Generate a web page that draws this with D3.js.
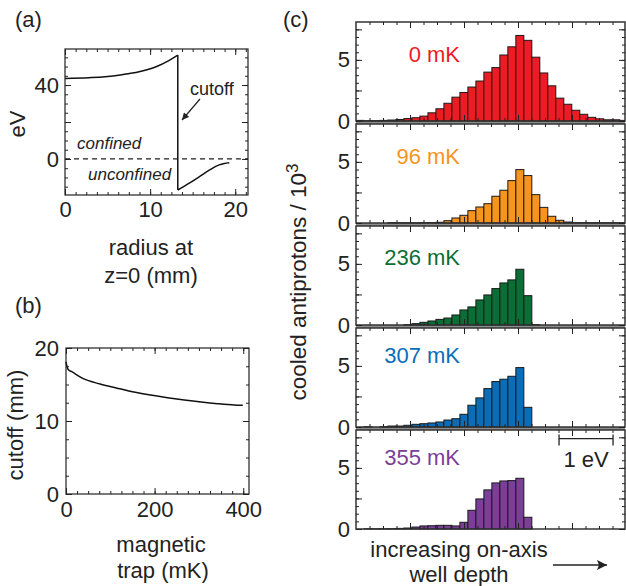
<!DOCTYPE html>
<html lang="en">
<head>
<meta charset="UTF-8">
<title>Antiproton cooling vs magnetic trap depth</title>
<style>
body { margin: 0; background: #fff; }
svg { display: block; font-family: "Liberation Sans", Arial, Helvetica, sans-serif; }
.frame { fill: none; stroke: #222; stroke-width: 1.2px; }
.hframe { fill: none; stroke: #333; stroke-width: 1.5px; }
.tick line { stroke: #222; stroke-width: 1px; }
.bar { stroke: #1a1a1a; stroke-width: 1px; }
</style>
</head>
<body>
<svg width="626" height="586"></svg>
<script src="https://d3js.org/d3.v7.min.js"></script>
<script>
// (a) on-axis potential vs radius at z=0
const potInside  = [[0,43.6],[2.8,44],[4.7,44.5],[6.7,45.6],[8.7,47.2],[10.7,49.9],[12.2,53.2],[13.25,56.2]];
const potOutside = [[13.25,-16.8],[14.6,-13.1],[15.8,-9.5],[17.0,-5.9],[18.1,-3.2],[18.7,-2.4],[19.3,-2.0]];

// (b) cutoff radius vs magnetic trap depth
const trapDepth    = [0, 3, 6, 13, 39, 77, 115, 153, 191, 229, 267, 305, 342, 380, 399];
const cutoffRadius = [18.1, 17.3, 17.0, 16.75, 15.8, 15.07, 14.5, 13.97, 13.56, 13.2, 12.88, 12.6, 12.37, 12.19, 12.15];

// (c) cooled antiprotons / 10^3 per bin of well depth
const binWidth = 0.148; // eV
const trapLabels = ["0 mK", "96 mK", "236 mK", "307 mK", "355 mK"];
const trapColors = ["#ed1c24", "#f7941d", "#0b6e35", "#0b6db7", "#7b3f98"];
const counts0   = [0.05,0.02,0.03,0.05,0.08,0.12,0.2,0.27,0.4,0.67,1.0,1.45,1.95,2.33,2.78,3.27,4.0,4.37,5.4,6.07,7.0,6.6,5.22,3.93,2.88,1.87,1.37,0.88,0.55,0.3,0.18,0.1,0.1,0.05];
const counts96  = [0,0,0,0,0.03,0.02,0.02,0.02,0.03,0.03,0.06,0.19,0.41,0.63,1.01,1.31,1.58,2.19,2.68,3.47,4.37,3.88,2.32,1.28,0.55,0.22,0.08,0.03,0.03,0.02,0.02,0.02,0.02,0.02];
const counts236 = [0,0,0,0,0,0,0.03,0.11,0.22,0.33,0.46,0.57,0.82,1.23,1.48,2.05,2.46,2.98,3.44,3.69,4.56,2.40,0.03,0,0,0,0,0,0,0,0,0,0,0];
const counts307 = [0,0.02,0,0.03,0.08,0.08,0.14,0.22,0.27,0.33,0.41,0.57,0.68,1.04,1.78,2.38,3.14,3.72,3.91,4.15,4.86,1.61,0,0,0,0,0,0,0,0,0,0,0,0];
const counts355 = [0,0.02,0.02,0.02,0.03,0.05,0.08,0.16,0.25,0.27,0.3,0.3,0.25,0.55,1.53,2.46,3.2,3.77,3.93,3.96,4.15,0.96,0,0,0,0,0,0,0,0,0,0,0,0];
const allCounts = [counts0, counts96, counts236, counts307, counts355];

const svg = d3.select("svg");
const FS = 22;

// ticks on all four sides, pointing inward; labels only where fmt gives text
function frameAxes(g, x, y, o) {
    const [x0, x1] = x.range(), [yb, yt] = y.range();
    const sides = [
        [d3.axisBottom, x, `translate(0,${yb})`, o.xMajor, o.xMinor, o.xFmt],
        [d3.axisTop, x, `translate(0,${yt})`, o.xMajor, o.xMinor, null],
        [d3.axisLeft, y, `translate(${x0},0)`, o.yMajor, o.yMinor, o.yFmt],
        [d3.axisRight, y, `translate(${x1},0)`, o.yMajor, o.yMinor, null]
    ];
    sides.forEach(([axis, s, tr, major, minor, fmt]) => {
        g.append("g").attr("transform", tr)
            .call(axis(s).tickValues(minor).tickSize(-3).tickFormat(() => ""))
            .call(a => a.select(".domain").remove());
        g.append("g").attr("transform", tr)
            .call(axis(s).tickValues(major).tickSize(-6).tickPadding(o.pad)
                .tickFormat(fmt || (() => "")))
            .attr("font-size", FS).attr("font-family", null)
            .call(a => a.select(".domain").remove())
            .call(a => a.selectAll("text").attr("fill", "#222"));
    });
}

// ---------- (a) ----------
const xa = d3.scaleLinear().domain([0, 21.5]).range([65, 248]);
const ya = d3.scaleLinear().domain([-19.5, 59.5]).range([195, 49]);
const ga = svg.append("g");
ga.append("line").attr("x1", xa.range()[0]).attr("x2", xa.range()[1])
    .attr("y1", ya(0)).attr("y2", ya(0))
    .attr("stroke", "#222").attr("stroke-width", 1.2).attr("stroke-dasharray", "5,4");
const lineA = d3.line().x(d => xa(d[0])).y(d => ya(d[1])).curve(d3.curveMonotoneX);
ga.append("path").attr("d", lineA(potInside)).attr("fill", "none").attr("stroke", "#111").attr("stroke-width", 1.5);
ga.append("path").attr("d", lineA(potOutside)).attr("fill", "none").attr("stroke", "#111").attr("stroke-width", 1.5);
ga.append("path").attr("d", d3.line().x(d => xa(d[0])).y(d => ya(d[1]))([potInside[potInside.length - 1], potOutside[0]]))
    .attr("fill", "none").attr("stroke", "#111").attr("stroke-width", 1.5);
ga.append("rect").attr("class", "frame").attr("x", 65).attr("y", 49).attr("width", 183).attr("height", 146);
frameAxes(ga, xa, ya, {
    xMajor: [0, 10, 20], xMinor: d3.range(0, 21.5, 1.25), xFmt: d => d,
    yMajor: [0, 20, 40], yMinor: d3.range(-15, 60, 5), yFmt: d => (d === 20 ? "" : d),
    pad: 6
});
ga.append("text").attr("x", 77).attr("y", 149).attr("font-size", 17).attr("font-style", "italic").attr("fill", "#222").text("confined");
ga.append("text").attr("x", 88).attr("y", 180).attr("font-size", 17).attr("font-style", "italic").attr("fill", "#222").text("unconfined");
ga.append("text").attr("x", 190).attr("y", 95).attr("font-size", 18).attr("fill", "#222").text("cutoff");

const defs = svg.append("defs");
defs.append("marker").attr("id", "headA").attr("viewBox", "0 -5 10 10")
    .attr("refX", 10).attr("refY", 0).attr("markerWidth", 8).attr("markerHeight", 7)
    .attr("markerUnits", "userSpaceOnUse").attr("orient", "auto")
    .append("path").attr("d", "M0,-5L10,0L0,5Z").attr("fill", "#222");
defs.append("marker").attr("id", "headB").attr("viewBox", "0 -5 10 10")
    .attr("refX", 10).attr("refY", 0).attr("markerWidth", 14).attr("markerHeight", 10)
    .attr("markerUnits", "userSpaceOnUse").attr("orient", "auto")
    .append("path").attr("d", "M0,-5L10,0L0,5L2,0Z").attr("fill", "#222");
ga.append("line").attr("x1", 200).attr("y1", 99).attr("x2", 182).attr("y2", 120)
    .attr("stroke", "#222").attr("stroke-width", 1.2).attr("marker-end", "url(#headA)");

svg.append("text").attr("x", 15).attr("y", 27).attr("font-size", FS).attr("fill", "#222").text("(a)");
svg.append("text").attr("transform", "translate(25,124) rotate(-90)").attr("text-anchor", "middle")
    .attr("font-size", FS).attr("fill", "#222").text("eV");
svg.append("text").attr("x", 151).attr("y", 255).attr("text-anchor", "middle").attr("font-size", FS).attr("fill", "#222").text("radius at");
svg.append("text").attr("x", 151).attr("y", 283).attr("text-anchor", "middle").attr("font-size", FS).attr("fill", "#222").text("z=0 (mm)");

// ---------- (b) ----------
const xb = d3.scaleLinear().domain([0, 413]).range([66, 249]);
const yb = d3.scaleLinear().domain([0, 20]).range([494, 348]);
const gb = svg.append("g");
gb.append("path")
    .attr("d", d3.line().x((d, i) => xb(trapDepth[i])).y(d => yb(d)).curve(d3.curveMonotoneX)(cutoffRadius))
    .attr("fill", "none").attr("stroke", "#111").attr("stroke-width", 1.5);
gb.append("rect").attr("class", "frame").attr("x", 66).attr("y", 348).attr("width", 183).attr("height", 146);
frameAxes(gb, xb, yb, {
    xMajor: [0, 200, 400], xMinor: d3.range(0, 413, 25), xFmt: d => d,
    yMajor: [0, 10, 20], yMinor: d3.range(0, 20.1, 2.5), yFmt: d => d,
    pad: 7
});
svg.append("text").attr("x", 15).attr("y", 313).attr("font-size", FS).attr("fill", "#222").text("(b)");
svg.append("text").attr("transform", "translate(23,425) rotate(-90)").attr("text-anchor", "middle")
    .attr("font-size", FS).attr("fill", "#222").text("cutoff (mm)");
svg.append("text").attr("x", 161).attr("y", 552).attr("text-anchor", "middle").attr("font-size", FS).attr("fill", "#222").text("magnetic");
svg.append("text").attr("x", 163).attr("y", 578).attr("text-anchor", "middle").attr("font-size", FS).attr("fill", "#222").text("trap (mK)");

// ---------- (c) ----------
const cLeft = 356, cRight = 625, cTop = 22, cH = 99, cStep = 102;
const labelLevel = [4.8, 4.8, 4.9, 5.2, 5.2]; // baseline of the temperature label, in counts units
const xc = d3.scaleLinear().domain([0, (cRight - cLeft) / 54]).range([cLeft, cRight]);
defs.append("clipPath").attr("id", "clipC").append("rect")
    .attr("x", cLeft).attr("y", 0).attr("width", cRight - cLeft).attr("height", 586);

// gray bands between stacked panels
for (let k = 0; k < 4; k++) {
    svg.append("rect").attr("x", cLeft).attr("width", cRight - cLeft)
        .attr("y", cTop + k * cStep + cH).attr("height", cStep - cH).attr("fill", "#8c8c8c");
}

allCounts.forEach((counts, k) => {
    const top = cTop + k * cStep;
    const yc = d3.scaleLinear().domain([0, 8.1]).range([top + cH, top]);
    const g = svg.append("g");
    g.append("g").attr("clip-path", "url(#clipC)")
        .selectAll("rect").data(counts).join("rect")
        .attr("class", "bar")
        .attr("x", (d, i) => xc(i * binWidth))
        .attr("width", xc(binWidth) - xc(0))
        .attr("y", d => yc(d))
        .attr("height", d => yc(0) - yc(d))
        .attr("fill", trapColors[k]);
    g.append("rect").attr("class", "hframe").attr("x", cLeft).attr("y", top).attr("width", cRight - cLeft).attr("height", cH);
    frameAxes(g, xc, yc, {
        xMajor: [1, 2, 3, 4], xMinor: d3.range(0.25, 5, 0.25), xFmt: () => "",
        yMajor: [0, 2.5, 5, 7.5], yMinor: d3.range(0, 8.1, 0.625), yFmt: d => (d === 0 || d === 5 ? d : ""),
        pad: 6
    });
    g.append("text").attr("x", 460).attr("y", yc(labelLevel[k])).attr("text-anchor", "end")
        .attr("font-size", FS).attr("fill", trapColors[k]).text(trapLabels[k]);
    if (k === 4) {
        // 1 eV scale bar
        const sy = yc(7.4), sx0 = xc(3.76), sx1 = xc(4.76);
        g.append("line").attr("x1", sx0).attr("x2", sx1).attr("y1", sy).attr("y2", sy).attr("stroke", "#222").attr("stroke-width", 1.3);
        [sx0, sx1].forEach(sx => g.append("line").attr("x1", sx).attr("x2", sx).attr("y1", sy - 4).attr("y2", sy + 7).attr("stroke", "#222").attr("stroke-width", 1.3));
        g.append("text").attr("x", (sx0 + sx1) / 2).attr("y", sy + 28).attr("text-anchor", "middle")
            .attr("font-size", FS).attr("fill", "#222").text("1 eV");
    }
});

svg.append("text").attr("x", 283).attr("y", 27).attr("font-size", FS).attr("fill", "#222").text("(c)");
const yl = svg.append("text").attr("transform", "translate(306,282) rotate(-90)").attr("text-anchor", "middle")
    .attr("font-size", 22.5).attr("fill", "#222");
yl.append("tspan").text("cooled antiprotons / 10");
yl.append("tspan").attr("dy", -8).attr("font-size", 17).text("3");
svg.append("text").attr("x", 459).attr("y", 557).attr("text-anchor", "middle").attr("font-size", FS).attr("fill", "#222").text("increasing on-axis");
svg.append("text").attr("x", 459).attr("y", 582).attr("text-anchor", "middle").attr("font-size", FS).attr("fill", "#222").text("well depth");
svg.append("line").attr("x1", 553).attr("x2", 607).attr("y1", 565).attr("y2", 565)
    .attr("stroke", "#222").attr("stroke-width", 1.5).attr("marker-end", "url(#headB)");
</script>
</body>
</html>
